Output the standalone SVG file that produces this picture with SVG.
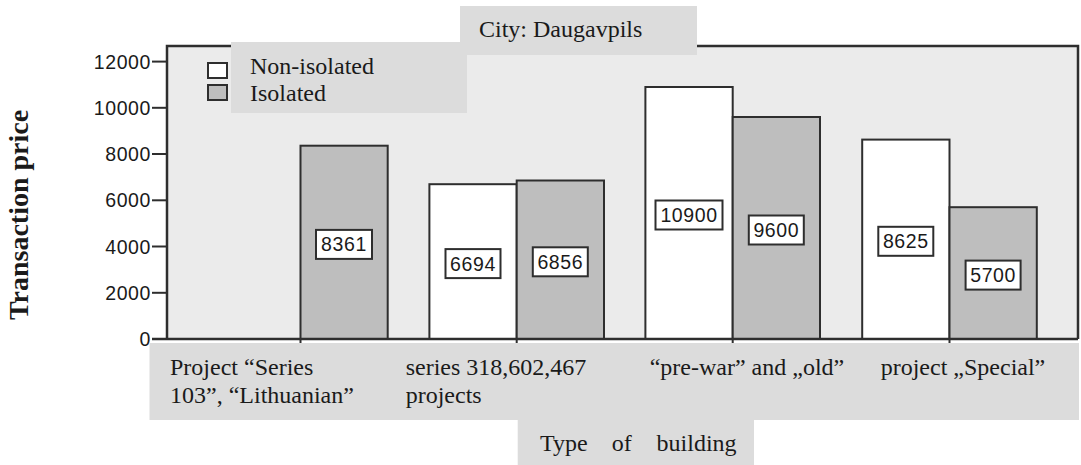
<svg xmlns="http://www.w3.org/2000/svg" width="1081" height="465" viewBox="0 0 1081 465">
  <style>
    .serif { font-family: "Liberation Serif", "Times New Roman", serif; font-size: 24px; fill: #1a1a1a; }
    .ytitle { font-size: 28px; font-weight: bold; }
    .num { font-family: "Liberation Sans", Arial, sans-serif; font-size: 19.5px; letter-spacing: 0.6px; fill: #1a1a1a; }
    .panel { fill: #dcdcdc; }
    .bar { stroke: #2e2e2e; stroke-width: 2; }
    .non { fill: #ffffff; }
    .iso { fill: #bebebe; }
    .vbox { fill: #ffffff; stroke: #2e2e2e; stroke-width: 2; }
    .axis { stroke: #2e2e2e; stroke-width: 2.5; fill: none; }
    .tick { stroke: #2e2e2e; stroke-width: 2; }
  </style>

  <!-- plot area -->
  <rect id="plot-bg" x="167" y="46" width="911" height="293" fill="#ebebeb"/>

  <!-- bars: y = 339 - value * 0.02312 -->
  <g id="series-103-lithuanian">
    <rect class="bar iso" x="300.5" y="145.7" width="87.2" height="193.3"/>
    <rect class="vbox" x="316" y="229.9" width="56" height="29"/>
    <text class="num" x="344" y="251.4" text-anchor="middle">8361</text>
  </g>
  <g id="series-318-602-467">
    <rect class="bar non" x="429.4" y="184.2" width="87.3" height="154.8"/>
    <rect class="bar iso" x="516.7" y="180.5" width="87.3" height="158.5"/>
    <rect class="vbox" x="445.5" y="249.1" width="55" height="29"/>
    <text class="num" x="473" y="270.6" text-anchor="middle">6694</text>
    <rect class="vbox" x="532.8" y="247.3" width="55" height="29"/>
    <text class="num" x="560.3" y="268.8" text-anchor="middle">6856</text>
  </g>
  <g id="pre-war-old">
    <rect class="bar non" x="645.4" y="87" width="87.3" height="252"/>
    <rect class="bar iso" x="732.7" y="117" width="87.3" height="222"/>
    <rect class="vbox" x="655.5" y="200.5" width="67" height="29"/>
    <text class="num" x="689" y="222" text-anchor="middle">10900</text>
    <rect class="vbox" x="748.8" y="215.5" width="55" height="29"/>
    <text class="num" x="776.3" y="237" text-anchor="middle">9600</text>
  </g>
  <g id="special">
    <rect class="bar non" x="862.2" y="139.6" width="87.3" height="199.4"/>
    <rect class="bar iso" x="949.5" y="207.2" width="87.3" height="131.8"/>
    <rect class="vbox" x="878.3" y="226.8" width="55" height="29"/>
    <text class="num" x="905.8" y="248.3" text-anchor="middle">8625</text>
    <rect class="vbox" x="965.6" y="260.6" width="55" height="29"/>
    <text class="num" x="993.1" y="282.1" text-anchor="middle">5700</text>
  </g>

  <!-- frame, axes and ticks -->
  <g id="axes">
    <path class="axis" d="M167 339 V46 H1078 V339"/>
    <line class="axis" x1="152" y1="339" x2="1078" y2="339"/>
    <g class="tick">
      <line x1="152" y1="292.8" x2="167" y2="292.8"/>
      <line x1="152" y1="246.5" x2="167" y2="246.5"/>
      <line x1="152" y1="200.3" x2="167" y2="200.3"/>
      <line x1="152" y1="154" x2="167" y2="154"/>
      <line x1="152" y1="107.8" x2="167" y2="107.8"/>
      <line x1="152" y1="61.6" x2="167" y2="61.6"/>
      <line x1="300.5" y1="339" x2="300.5" y2="344"/>
      <line x1="516.7" y1="339" x2="516.7" y2="344"/>
      <line x1="732.7" y1="339" x2="732.7" y2="344"/>
      <line x1="949.5" y1="339" x2="949.5" y2="344"/>
    </g>
    <g class="num" text-anchor="end">
      <text x="151" y="346">0</text>
      <text x="151" y="299.8">2000</text>
      <text x="151" y="253.5">4000</text>
      <text x="151" y="207.3">6000</text>
      <text x="151" y="161">8000</text>
      <text x="151" y="114.8">10000</text>
      <text x="151" y="68.6">12000</text>
    </g>
  </g>

  <!-- y-axis title -->
  <text id="y-title" class="serif ytitle" text-anchor="middle" transform="translate(28,215) rotate(-90)">Transaction price</text>

  <!-- legend -->
  <g id="legend">
    <rect class="panel" x="231" y="42" width="236" height="71"/>
    <rect class="bar non" x="208" y="63" width="19" height="15"/>
    <rect class="bar iso" x="208" y="85" width="19" height="15"/>
    <text class="serif" x="250" y="74">Non-isolated</text>
    <text class="serif" x="250" y="101">Isolated</text>
  </g>

  <!-- panel title -->
  <g id="city">
    <rect class="panel" x="460" y="6" width="237" height="49"/>
    <text class="serif" x="479" y="37">City: Daugavpils</text>
  </g>

  <!-- category labels -->
  <g id="categories">
    <rect class="panel" x="149.5" y="343" width="929.5" height="77"/>
    <text class="serif" x="170" y="375">Project “Series</text>
    <text class="serif" x="170" y="402.5">103”, “Lithuanian”</text>
    <text class="serif" x="405.7" y="375">series 318,602,467</text>
    <text class="serif" x="405.7" y="402.5">projects</text>
    <text class="serif" x="649.7" y="375">“pre-war” and „old”</text>
    <text class="serif" x="880.7" y="375">project „Special”</text>
  </g>

  <!-- x-axis title -->
  <g id="x-title">
    <rect class="panel" x="517.7" y="420" width="236.3" height="45"/>
    <text class="serif" x="540" y="451">Type</text>
    <text class="serif" x="611.7" y="451">of</text>
    <text class="serif" x="656.6" y="451">building</text>
  </g>
</svg>
